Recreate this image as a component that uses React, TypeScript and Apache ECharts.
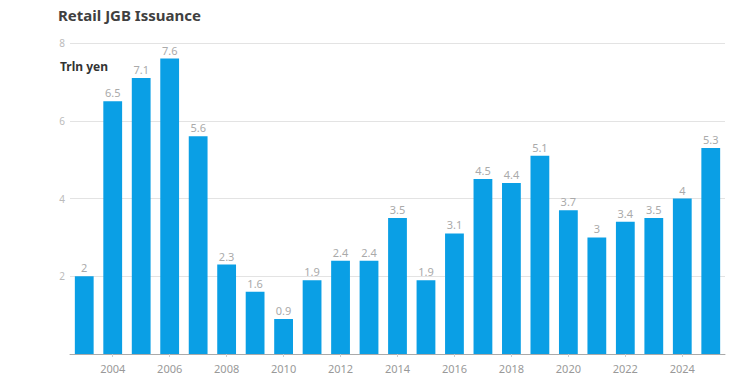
import React, { useEffect, useRef } from "react";
import * as echarts from "echarts";

const years = ["2003","2004","2005","2006","2007","2008","2009","2010","2011","2012","2013","2014","2015","2016","2017","2018","2019","2020","2021","2022","2023","2024","2025"];
const issuance = [2, 6.5, 7.1, 7.6, 5.6, 2.3, 1.6, 0.9, 1.9, 2.4, 2.4, 3.5, 1.9, 3.1, 4.5, 4.4, 5.1, 3.7, 3, 3.4, 3.5, 4, 5.3];

const FONT = "'Noto Sans', sans-serif";

export default function App() {
  const ref = useRef<HTMLDivElement>(null);
  useEffect(() => {
    if (!ref.current) return;
    const chart = echarts.init(ref.current, null, { renderer: "svg" });
    chart.setOption({
      animation: false,
      backgroundColor: "#ffffff",
      textStyle: { fontFamily: FONT },
      title: {
        text: "Retail JGB Issuance",
        left: 53,
        top: 2,
        textStyle: { fontFamily: FONT, fontSize: 15, fontWeight: "bold", color: "#404040" },
      },
      graphic: [
        {
          type: "text",
          left: 60,
          top: 60,
          style: { text: "Trln yen", fontFamily: FONT, fontSize: 12, fontWeight: "bold", fill: "#333333" },
        },
      ],
      grid: { left: 70, right: 11, top: 43, bottom: 28, containLabel: false },
      xAxis: {
        type: "category",
        data: years,
        axisLine: { show: true, lineStyle: { color: "#aaaaaa", width: 1 } },
        axisTick: {
          show: true,
          alignWithLabel: true,
          length: 3,
          interval: (idx: number, val: string) => Number(val) % 2 === 0,
          lineStyle: { color: "#cccccc" },
        },
        axisLabel: {
          interval: (idx: number, val: string) => Number(val) % 2 === 0,
          color: "#999999",
          fontSize: 11,
          fontFamily: FONT,
          margin: 9,
        },
      },
      yAxis: {
        type: "value",
        min: 0,
        max: 8,
        interval: 2,
        axisLine: { show: false },
        axisTick: { show: false },
        axisLabel: {
          color: "#bbbbbb",
          fontSize: 10,
          fontFamily: FONT,
          margin: 5,
          formatter: (v: number) => (v === 0 ? "" : String(v)),
        },
        splitLine: { lineStyle: { color: "#e3e3e3", width: 1 } },
      },
      series: [
        {
          type: "bar",
          data: issuance,
          barCategoryGap: "34%",
          itemStyle: { color: "#0a9fe5" },
          label: {
            show: true,
            position: "top",
            distance: 3,
            color: "#aaaaaa",
            fontSize: 11,
            fontFamily: FONT,
          },
        },
      ],
    });
    return () => chart.dispose();
  }, []);
  return <div ref={ref} style={{ position: "fixed", left: 0, top: 0, width: 736, height: 382 }} />;
}
